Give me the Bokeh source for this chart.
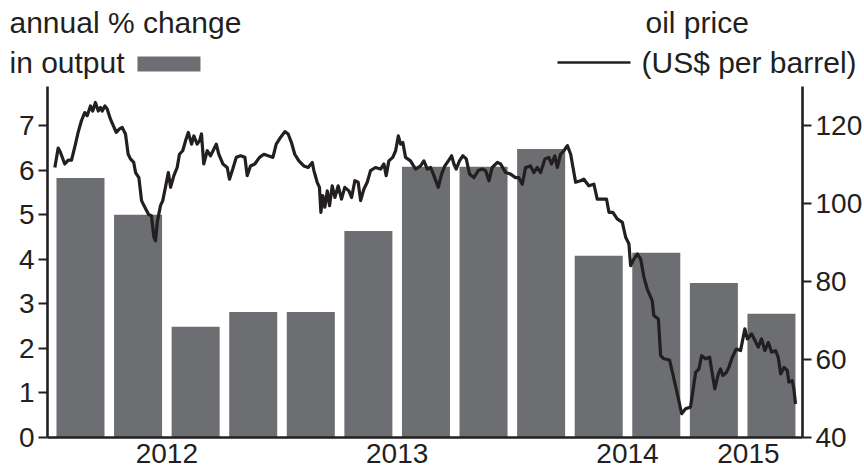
from bokeh.plotting import figure
from bokeh.models import Range1d, LinearAxis, FixedTicker
from bokeh.embed import file_html
from bokeh.resources import INLINE
from bokeh.core.properties import value

# ---------------- data ----------------
bar_index = list(range(13))
output_growth = [5.83, 5.0, 2.49, 2.82, 2.82, 4.64, 6.08, 6.08, 6.48, 4.08, 4.15, 3.47, 2.78]

year_labels = ["2012", "2013", "2014", "2015"]
year_label_pos = [1.5, 5.5, 9.5, 11.6]

left_ticks = [0, 1, 2, 3, 4, 5, 6, 7]
right_ticks = [40, 60, 80, 100, 120]

oil_time = [
    2011.990, 2012.006, 2012.017, 2012.038, 2012.055, 2012.071, 2012.090, 2012.103, 2012.119, 2012.135,
    2012.147, 2012.163, 2012.174, 2012.187, 2012.201, 2012.212, 2012.220, 2012.233, 2012.244, 2012.260,
    2012.288, 2012.304, 2012.317, 2012.333, 2012.346, 2012.357, 2012.373, 2012.382, 2012.398, 2012.411,
    2012.427, 2012.446, 2012.459, 2012.471, 2012.479, 2012.487, 2012.503, 2012.514, 2012.527, 2012.541,
    2012.552, 2012.568, 2012.584, 2012.595, 2012.611, 2012.625, 2012.638, 2012.654, 2012.665, 2012.681,
    2012.693, 2012.702, 2012.713, 2012.730, 2012.746, 2012.762, 2012.774, 2012.786, 2012.806, 2012.827,
    2012.838, 2012.854, 2012.871, 2012.892, 2012.913, 2012.924, 2012.940, 2012.961, 2012.984, 2013.005,
    2013.026, 2013.049, 2013.065, 2013.086, 2013.107, 2013.123, 2013.139, 2013.155, 2013.175, 2013.199,
    2013.220, 2013.240, 2013.248, 2013.264, 2013.275, 2013.282, 2013.291, 2013.301, 2013.313, 2013.324,
    2013.337, 2013.350, 2013.366, 2013.382, 2013.398, 2013.418, 2013.431, 2013.447, 2013.463, 2013.475,
    2013.491, 2013.507, 2013.523, 2013.547, 2013.572, 2013.588, 2013.599, 2013.612, 2013.631, 2013.645,
    2013.658, 2013.669, 2013.680, 2013.693, 2013.717, 2013.742, 2013.766, 2013.782, 2013.799, 2013.815,
    2013.831, 2013.852, 2013.868, 2013.884, 2013.901, 2013.917, 2013.928, 2013.939, 2013.955, 2013.971,
    2013.988, 2014.004, 2014.025, 2014.046, 2014.066, 2014.082, 2014.098, 2014.114, 2014.139, 2014.155,
    2014.179, 2014.203, 2014.227, 2014.243, 2014.260, 2014.276, 2014.300, 2014.316, 2014.333, 2014.349,
    2014.370, 2014.389, 2014.402, 2014.418, 2014.430, 2014.446, 2014.462, 2014.479, 2014.495, 2014.519,
    2014.543, 2014.559, 2014.583, 2014.608, 2014.624, 2014.649, 2014.669, 2014.681, 2014.700, 2014.721,
    2014.746, 2014.762, 2014.778, 2014.786, 2014.802, 2014.819, 2014.835, 2014.851, 2014.867, 2014.891,
    2014.899, 2014.921, 2014.932, 2014.948, 2014.975, 2014.991, 2015.013, 2015.034, 2015.053, 2015.077,
    2015.089, 2015.102, 2015.118, 2015.131, 2015.150, 2015.170, 2015.183, 2015.195, 2015.212, 2015.223,
    2015.234, 2015.251, 2015.263, 2015.280, 2015.299, 2015.320, 2015.328, 2015.341, 2015.353, 2015.374,
    2015.390, 2015.406, 2015.422, 2015.438, 2015.455, 2015.471, 2015.490, 2015.503, 2015.515, 2015.531,
    2015.547, 2015.555, 2015.571, 2015.579, 2015.587,
]
oil_price = [
    109.3, 114.3, 113.2, 110.2, 111.2, 111.2, 115.3, 118.3, 121.3, 123.4,
    122.6, 125.1, 123.8, 126.0, 123.8, 124.7, 123.8, 125.1, 124.3, 121.7,
    118.3, 119.2, 119.6, 117.9, 112.7, 111.5, 110.6, 108.0, 106.7, 100.8,
    99.1, 97.2, 96.9, 91.4, 90.5, 95.2, 99.5, 100.8, 104.2, 108.0,
    104.2, 107.2, 109.3, 112.7, 113.6, 116.2, 118.3, 115.3, 117.4, 115.3,
    116.2, 117.9, 110.2, 113.6, 112.3, 114.0, 115.3, 112.7, 110.2, 109.3,
    106.3, 108.9, 111.9, 112.3, 111.9, 107.2, 109.7, 110.2, 111.9, 112.7,
    112.3, 111.9, 115.3, 117.0, 118.5, 117.9, 115.7, 112.7, 111.0, 109.7,
    109.3, 110.6, 108.5, 105.5, 104.2, 97.8, 102.1, 99.1, 103.3, 99.5,
    104.6, 101.6, 104.6, 101.2, 104.2, 103.3, 101.6, 105.9, 105.5, 100.8,
    103.8, 105.5, 108.5, 109.3, 108.9, 110.2, 107.2, 111.0, 111.9, 113.6,
    117.4, 115.3, 115.7, 111.9, 111.0, 108.9, 109.7, 111.0, 108.9, 109.3,
    107.2, 104.2, 107.6, 109.7, 111.0, 112.3, 110.2, 108.9, 111.0, 112.3,
    111.5, 107.6, 106.7, 108.5, 108.9, 108.5, 105.9, 109.3, 110.6, 110.2,
    108.0, 107.6, 106.7, 106.7, 105.0, 109.3, 109.7, 108.0, 109.3, 108.0,
    111.5, 111.9, 110.2, 112.3, 109.3, 112.7, 113.6, 114.9, 112.7, 105.5,
    105.9, 106.3, 104.6, 105.0, 101.2, 101.2, 101.2, 97.8, 97.8, 96.1,
    95.2, 91.4, 89.7, 84.1, 85.8, 87.1, 85.8, 81.1, 78.1, 75.1,
    71.3, 70.4, 61.0, 60.2, 59.9, 56.3, 51.2, 46.1, 47.4, 47.8,
    52.1, 56.7, 57.6, 61.0, 60.2, 60.6, 56.3, 52.5, 56.3, 57.6,
    55.9, 56.7, 58.0, 60.6, 62.7, 62.3, 64.4, 67.9, 65.3, 66.6,
    64.9, 63.2, 65.3, 62.3, 64.4, 61.9, 62.3, 60.6, 56.3, 58.0,
    57.2, 54.2, 54.6, 52.5, 48.6,
]

# ---------------- styles ----------------
INK = "#231f20"
BAR = "#6d6e71"
FONT = "Liberation Sans"
TICK_FS = "28px"
LEG_FS = "30px"

# axis extents in data units (bar-index x, left-axis y)
X_AXIS_L, X_AXIS_R = -0.573, 12.539
Y_TOP_LEFT = 7.875
OIL_MIN, OIL_TOP = 40, 130

# the frame covers the whole canvas; axes are pinned with fixed_location
p = figure(width=864, height=470,
           x_range=Range1d(-1.389, 13.616), y_range=Range1d(-0.741, 9.814),
           output_backend="svg", toolbar_location=None, min_border=0,
           x_axis_location=None, y_axis_location=None, outline_line_color=None)
p.extra_y_ranges = {"oil": Range1d(31.531, 152.16)}
p.extra_x_ranges = {"time": Range1d(2011.726, 2015.922)}
p.grid.visible = False

p.vbar(x=bar_index, top=output_growth, bottom=0, width=0.834, fill_color=BAR, line_color=None)
p.line(x=oil_time, y=oil_price, x_range_name="time", y_range_name="oil",
       line_color=INK, line_width=3.2, line_join="round")

left_axis = LinearAxis(ticker=FixedTicker(ticks=left_ticks), fixed_location=X_AXIS_L,
                       bounds=(0, Y_TOP_LEFT))
right_axis = LinearAxis(y_range_name="oil", ticker=FixedTicker(ticks=right_ticks),
                        fixed_location=X_AXIS_R, bounds=(OIL_MIN, OIL_TOP))
bottom_axis = LinearAxis(ticker=FixedTicker(ticks=year_label_pos), fixed_location=0,
                         bounds=(X_AXIS_L, X_AXIS_R),
                         major_label_overrides={pos: lab for pos, lab in zip(year_label_pos, year_labels)})

for ax in (left_axis, right_axis, bottom_axis):
    ax.axis_line_color = INK
    ax.axis_line_width = 2.6
    ax.major_tick_line_color = INK
    ax.major_tick_line_width = 2
    ax.major_tick_in = 0
    ax.major_tick_out = 9
    ax.minor_tick_line_color = None
    ax.major_label_text_font = FONT
    ax.major_label_text_font_size = TICK_FS
    ax.major_label_text_color = INK
    ax.major_label_standoff = 4
bottom_axis.major_tick_out = 0
bottom_axis.major_tick_line_color = None
bottom_axis.major_label_standoff = 6

p.add_layout(left_axis, "left")
p.add_layout(right_axis, "right")
p.add_layout(bottom_axis, "below")

# legend texts and swatches above the axes
leg = dict(text_font=value(FONT), text_font_size=LEG_FS, text_color=INK,
           text_align="left", text_baseline="alphabetic")
p.text(x=[-1.233, -1.233], y=[9.32, 8.42], text=["annual % change", "in output"], **leg)
p.text(x=[9.813, 9.743], y=[9.32, 8.42], text=["oil price", "(US$ per barrel)"], **leg)
p.quad(left=[0.990], right=[2.084], bottom=[8.219], top=[8.556], fill_color=BAR, line_color=None)
p.line(x=[8.284, 9.552], y=[8.421, 8.421], line_color=INK, line_width=2.6)

open("out.html", "w").write(file_html(p, INLINE))
